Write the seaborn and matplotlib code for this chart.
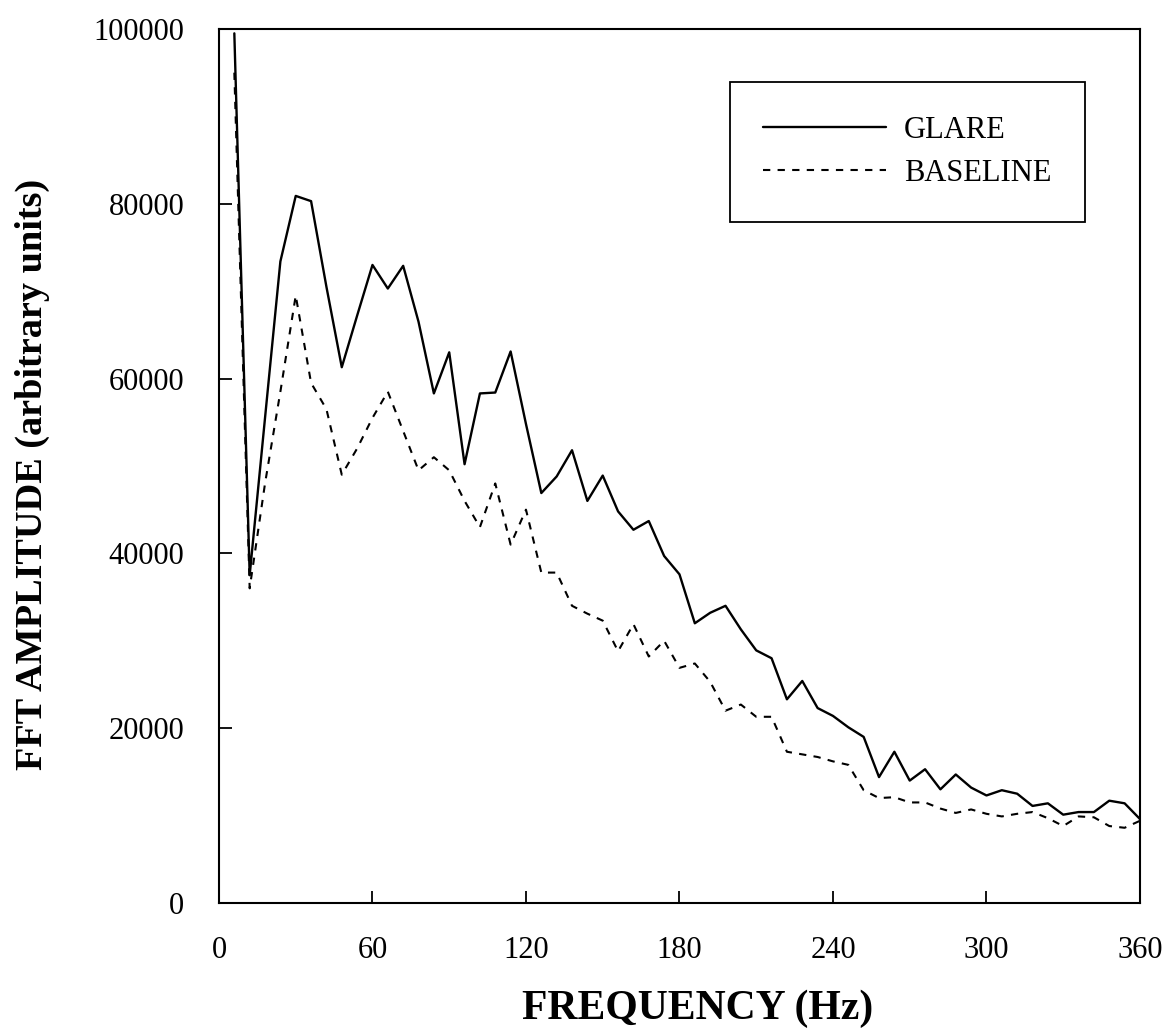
import numpy as np
import pandas as pd
import matplotlib
matplotlib.use("Agg")
import matplotlib.pyplot as plt
import seaborn as sns

# frequency bins (Hz)
freq = list(range(6, 361, 6))

glare = [99500, 37500, 55500, 73400, 80900, 80300, 70500, 61300, 67200, 73000,
         70300, 72900, 66500, 58300, 63000, 50200, 58300, 58400, 63100, 54800,
         46900, 48800, 51800, 46000, 48900, 44800, 42700, 43700, 39700, 37600,
         32000, 33200, 34000, 31300, 28900, 28000, 23300, 25400, 22300, 21400,
         20100, 19000, 14400, 17300, 14000, 15300, 13000, 14700, 13200, 12300,
         12900, 12500, 11100, 11400, 10100, 10400, 10400, 11700, 11400, 9600]

baseline = [95000, 36000, 48000, 58500, 69500, 59500, 56500, 49000, 52000, 55500,
            58500, 54000, 49500, 51000, 49500, 46000, 43000, 48000, 41000, 45000,
            37800, 37800, 34000, 33100, 32300, 28800, 31900, 28200, 30000, 26900,
            27400, 25300, 22000, 22700, 21300, 21300, 17300, 17000, 16700, 16200,
            15800, 12900, 12000, 12100, 11500, 11500, 10800, 10300, 10700, 10200,
            9900, 10200, 10400, 9700, 8800, 9900, 9800, 8800, 8600, 9400]

x_ticks = [0, 60, 120, 180, 240, 300, 360]
y_ticks = [0, 20000, 40000, 60000, 80000, 100000]

sns.set_style("ticks")
plt.rcParams['font.family'] = ['Liberation Serif', 'DejaVu Serif']
plt.rcParams['text.color'] = 'black'
plt.rcParams['axes.labelcolor'] = 'black'
plt.rcParams['xtick.color'] = 'black'
plt.rcParams['ytick.color'] = 'black'

fig = plt.figure(figsize=(11.71, 10.31), dpi=100)
ax = fig.add_axes([0.187, 0.1242, 0.7865, 0.8477])

sns.lineplot(x=freq, y=glare, ax=ax, color='black', linewidth=1.7, label='GLARE')
sns.lineplot(x=freq, y=baseline, ax=ax, color='black', linewidth=1.5,
             linestyle=(0, (3.5, 3.5)), label='BASELINE')

ax.set_xlim(0, 360)
ax.set_ylim(0, 100000)
ax.set_xticks(x_ticks)
ax.set_yticks(y_ticks)
ax.tick_params(direction='in', length=9, width=1.3, labelsize=22)
ax.tick_params(axis='x', pad=24)
ax.tick_params(axis='y', pad=25)

for sp in ax.spines.values():
    sp.set_visible(True)
    sp.set_color('black')
    sp.set_linewidth(1.5)

ax.set_xlabel('FREQUENCY (Hz)', fontsize=30, fontweight='bold')
ax.set_ylabel('FFT AMPLITUDE (arbitrary units)', fontsize=27.5, fontweight='bold')
ax.xaxis.set_label_coords(0.520, -0.0995)
ax.yaxis.set_label_coords(-0.183, 0.49)

leg = ax.legend(loc='upper right', bbox_to_anchor=(0.9403, 0.9394), fontsize=22,
                frameon=True, fancybox=False, framealpha=1, edgecolor='black',
                handlelength=4.0, handletextpad=0.6, borderpad=1.1,
                borderaxespad=0, labelspacing=0.47)
leg.get_frame().set_linewidth(1.3)

fig.savefig('out.png', dpi=100)
